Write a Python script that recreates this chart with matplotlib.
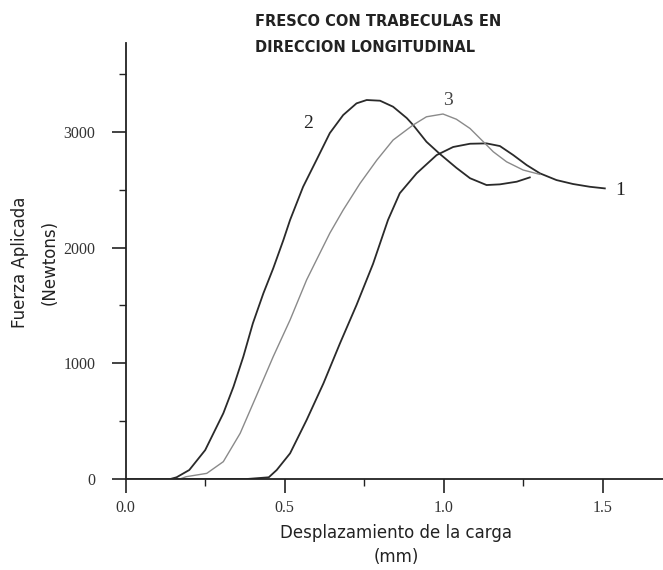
import numpy as np
import matplotlib
matplotlib.use('Agg')
import matplotlib.pyplot as plt

# curva 1
x1 = [0.0, 0.38, 0.45, 0.475, 0.517, 0.569, 0.622, 0.674, 0.726, 0.778, 0.825, 0.862,
      0.915, 0.978, 1.03, 1.083, 1.135, 1.177, 1.219, 1.261, 1.303, 1.355, 1.407, 1.46, 1.507]
y1 = [0, 0, 15, 78, 222, 510, 827, 1173, 1504, 1860, 2239, 2470,
      2642, 2800, 2870, 2898, 2901, 2878, 2800, 2714, 2642, 2584, 2550, 2526, 2512]

# curva 2
x2 = [0.0, 0.14, 0.16, 0.20, 0.25, 0.307, 0.339, 0.37, 0.40, 0.433, 0.464, 0.496, 0.517,
      0.558, 0.60, 0.642, 0.684, 0.726, 0.758, 0.80, 0.841, 0.884, 0.904, 0.946, 0.988,
      1.04, 1.083, 1.135, 1.177, 1.23, 1.271]
y2 = [0, 0, 15, 78, 250, 568, 798, 1058, 1346, 1605, 1821, 2066, 2239,
      2526, 2757, 2990, 3146, 3247, 3276, 3270, 3218, 3120, 3060, 2915, 2810,
      2690, 2600, 2541, 2547, 2570, 2607]

# curva 3
x3 = [0.0, 0.17, 0.19, 0.255, 0.307, 0.36, 0.41, 0.464, 0.517, 0.569, 0.60, 0.642, 0.684,
      0.737, 0.79, 0.841, 0.904, 0.946, 0.998, 1.04, 1.083, 1.125, 1.156, 1.198, 1.25, 1.303]
y3 = [0, 0, 20, 49, 150, 395, 712, 1058, 1375, 1721, 1893, 2125, 2325,
      2555, 2757, 2930, 3060, 3131, 3155, 3110, 3030, 2915, 2829, 2742, 2671, 2633]

xticks = [0.0, 0.5, 1.0, 1.5]
xtick_labels = ['0.0', '0.5', '1.0', '1.5']
yticks = [0, 1000, 2000, 3000]

fig = plt.figure(figsize=(6.63, 5.70), dpi=100)
ax = fig.add_axes([0.1896, 0.1596, 0.8104, 0.7644])

ax.plot(x1, y1, color='#2a2a2a', lw=1.3)
ax.plot(x2, y2, color='#2a2a2a', lw=1.3)
ax.plot(x3, y3, color='#8a8a8a', lw=1.0)

ax.set_xlim(0, 1.69)
ax.set_ylim(0, 3766)

for s in ['top', 'right']:
    ax.spines[s].set_visible(False)
ax.spines['left'].set_linewidth(1.3)
ax.spines['bottom'].set_linewidth(1.3)
ax.spines['left'].set_color('#222222')
ax.spines['bottom'].set_color('#222222')

ax.set_xticks(xticks)
ax.set_xticklabels(xtick_labels)
ax.set_xticks([0.25, 0.75, 1.25], minor=True)
ax.set_yticks(yticks)
ax.set_yticks([500, 1500, 2500, 3500], minor=True)
ax.tick_params(which='major', direction='out', length=10, width=1.2, color='#222222',
               labelsize=11.5, labelcolor='#333333')
ax.tick_params(which='minor', direction='out', length=5, width=1.0, color='#222222')
ax.tick_params(axis='x', which='major', pad=5)
ax.tick_params(axis='y', which='major', pad=12)
for lab in ax.get_xticklabels() + ax.get_yticklabels():
    lab.set_family('Liberation Serif')

# etiquetas de las curvas
ax.text(1.54, 2498, '1', family='Liberation Serif', fontsize=14, color='#222222',
        va='center', ha='left')
ax.text(0.574, 3077, '2', family='Liberation Serif', fontsize=14, color='#222222',
        va='center', ha='center')
ax.text(1.013, 3276, '3', family='Liberation Serif', fontsize=14, color='#444444',
        va='center', ha='center')

# titulo
fig.text(255 / 663, 1 - 22 / 570, 'FRESCO CON TRABECULAS EN', fontsize=10.5,
         fontweight='bold', color='#222222', va='center', ha='left')
fig.text(255 / 663, 1 - 48 / 570, 'DIRECCION LONGITUDINAL', fontsize=10.5,
         fontweight='bold', color='#222222', va='center', ha='left')

# ejes
fig.text(396 / 663, 1 - 533 / 570, 'Desplazamiento de la carga', fontsize=12,
         color='#222222', ha='center', va='center')
fig.text(396 / 663, 1 - 557 / 570, '(mm)', fontsize=12,
         color='#222222', ha='center', va='center')
fig.text(20 / 663, 1 - 262 / 570, 'Fuerza Aplicada', fontsize=12, rotation=90,
         color='#222222', ha='center', va='center')
fig.text(50 / 663, 1 - 262 / 570, '(Newtons)', fontsize=12, rotation=90,
         color='#222222', ha='center', va='center')

fig.savefig('out.png', dpi=100)
